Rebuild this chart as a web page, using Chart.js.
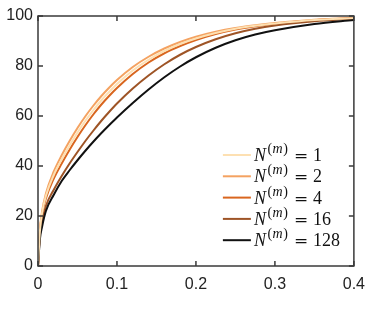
<!DOCTYPE html>
<html>
<head>
<meta charset="utf-8">
<script src="https://cdn.jsdelivr.net/npm/chart.js@4"></script>
<style>
  html, body { margin: 0; padding: 0; background: #fff; }
  #wrap { width: 374px; height: 310px; }
</style>
</head>
<body>
<div id="wrap"><canvas id="myChart" width="374" height="310"></canvas></div>
<script>
const xValues = [0, 0.0025, 0.005, 0.01, 0.02, 0.03, 0.04, 0.05, 0.06, 0.07, 0.08, 0.09, 0.1, 0.12, 0.14, 0.16, 0.18, 0.2, 0.225, 0.25, 0.275, 0.3, 0.35, 0.4];

const n1Values = [0, 14.2, 21, 28, 36.4, 42.6, 48.2, 53.4, 58.1, 62.3, 66.2, 69.6, 72.8, 78.2, 82.5, 86, 88.8, 91, 93.2, 94.9, 96.1, 97, 98.4, 99.15];
const n2Values = [0, 14.5, 21.5, 29, 37.8, 44.3, 50, 55.2, 59.9, 64.1, 67.9, 71.3, 74.4, 79.6, 83.7, 87, 89.6, 91.7, 93.7, 95.2, 96.3, 97.2, 98.5, 99.2];
const n4Values = [0, 14, 20.5, 27, 35, 41, 46.5, 51.6, 56.3, 60.6, 64.5, 68, 71.2, 76.8, 81.4, 85.1, 88, 90.4, 92.8, 94.6, 95.9, 96.9, 98.3, 99.1];
const n16Values = [0, 12.5, 17.5, 24, 30.5, 36, 41, 45.6, 50, 54.1, 58, 61.6, 65, 71, 76.2, 80.7, 84.5, 87.6, 90.7, 93.1, 94.9, 96.2, 97.9, 98.9];
const n128Values = [0, 11, 15.5, 22, 28.5, 34, 38.3, 42.3, 46.1, 49.7, 53.1, 56.3, 59.4, 65.2, 70.6, 75.5, 79.8, 83.5, 87.3, 90.3, 92.6, 94.3, 96.8, 98.4];

const seriesNames = ["1", "2", "4", "16", "128"];
const seriesColors = ["#fde0b2", "#f4a261", "#d9661f", "#9e5426", "#111111"];

const xTicks = [0, 0.1, 0.2, 0.3, 0.4];
const xTickLabels = ["0", "0.1", "0.2", "0.3", "0.4"];
const yTicks = [0, 20, 40, 60, 80, 100];
const yTickLabels = ["0", "20", "40", "60", "80", "100"];

const allValues = [n1Values, n2Values, n4Values, n16Values, n128Values];

const axisColor = "#3a3a3a";
const tickFont = { family: "'Liberation Sans', Arial, sans-serif", size: 16 };

// frame + inward ticks on all four sides, like the original
const framePlugin = {
  id: "frame",
  afterDatasetsDraw(chart) {
    const ctx = chart.ctx;
    const a = chart.chartArea;
    const xs = chart.scales.x;
    const ys = chart.scales.y;
    const len = 5;
    ctx.save();
    ctx.strokeStyle = axisColor;
    ctx.lineWidth = 1.5;
    ctx.strokeRect(a.left, a.top, a.right - a.left, a.bottom - a.top);
    ctx.beginPath();
    xTicks.forEach((v) => {
      const px = xs.getPixelForValue(v);
      ctx.moveTo(px, a.bottom);
      ctx.lineTo(px, a.bottom - len);
      ctx.moveTo(px, a.top);
      ctx.lineTo(px, a.top + len);
    });
    yTicks.forEach((v) => {
      const py = ys.getPixelForValue(v);
      ctx.moveTo(a.left, py);
      ctx.lineTo(a.left + len, py);
      ctx.moveTo(a.right, py);
      ctx.lineTo(a.right - len, py);
    });
    ctx.stroke();
    ctx.restore();
  },
};

// legend inside the plot, bottom right, with N^(m) = k labels
const mathLegend = {
  id: "mathLegend",
  afterDatasetsDraw(chart) {
    const ctx = chart.ctx;
    const a = chart.chartArea;
    const lineStart = a.right - 131;
    const lineEnd = a.right - 103;
    const firstRow = a.top + 139;
    const rowGap = 21.3;
    ctx.save();
    chart.data.datasets.forEach((ds, i) => {
      const y = firstRow + i * rowGap;
      ctx.strokeStyle = ds.borderColor;
      ctx.lineWidth = 2;
      ctx.beginPath();
      ctx.moveTo(lineStart, y);
      ctx.lineTo(lineEnd, y);
      ctx.stroke();

      ctx.fillStyle = "#111";
      ctx.textBaseline = "alphabetic";
      const base = y + 6;
      const x0 = lineEnd + 3;
      let x = x0;
      ctx.font = "italic 18px 'Liberation Serif', serif";
      ctx.fillText("N", x, base);
      x += ctx.measureText("N").width + 1.5;
      ctx.font = "14px 'Liberation Serif', serif";
      ctx.fillText("(", x, base - 8);
      x += ctx.measureText("(").width + 0.5;
      ctx.font = "italic 14px 'Liberation Serif', serif";
      ctx.fillText("m", x, base - 8);
      x += ctx.measureText("m").width + 0.5;
      ctx.font = "14px 'Liberation Serif', serif";
      ctx.fillText(")", x, base - 8);
      ctx.font = "17px 'DejaVu Serif', serif";
      ctx.fillText("=", x0 + 40, base);
      ctx.font = "18px 'Liberation Serif', serif";
      ctx.fillText(seriesNames[i], x0 + 59, base);
    });
    ctx.restore();
  },
};

const createLineChart = () => {
  new Chart(document.getElementById("myChart"), {
    type: "line",
    data: {
      datasets: allValues.map((vals, i) => ({
        label: "N(m) = " + seriesNames[i],
        data: xValues.map((x, j) => ({ x: x, y: vals[j] })),
        borderColor: seriesColors[i],
        borderWidth: 2,
        pointRadius: 0,
        fill: false,
        cubicInterpolationMode: "monotone",
        order: i === 0 ? 0 : allValues.length - i + 1,
      })),
    },
    options: {
      responsive: false,
      animation: false,
      events: [],
      layout: { padding: { left: 0, right: 17, top: 16, bottom: 0 } },
      scales: {
        x: {
          type: "linear",
          min: 0,
          max: 0.4,
          afterBuildTicks: (scale) => {
            scale.ticks = xTicks.map((v) => ({ value: v }));
          },
          afterFit: (scale) => {
            scale.height = 44;
          },
          grid: { display: false, drawTicks: false },
          border: { display: false },
          ticks: {
            color: "#222",
            font: tickFont,
            padding: 9,
            maxRotation: 0,
            callback: (value) => xTickLabels[xTicks.indexOf(value)],
          },
        },
        y: {
          min: 0,
          max: 100,
          afterBuildTicks: (scale) => {
            scale.ticks = yTicks.map((v) => ({ value: v }));
          },
          afterFit: (scale) => {
            scale.width = 38;
          },
          grid: { display: false, drawTicks: false },
          border: { display: false },
          ticks: {
            color: "#222",
            font: tickFont,
            padding: 5,
            callback: (value) => yTickLabels[yTicks.indexOf(value)],
          },
        },
      },
      plugins: {
        legend: { display: false },
        tooltip: { enabled: false },
      },
    },
    plugins: [framePlugin, mathLegend],
  });
};

createLineChart();
</script>
</body>
</html>
